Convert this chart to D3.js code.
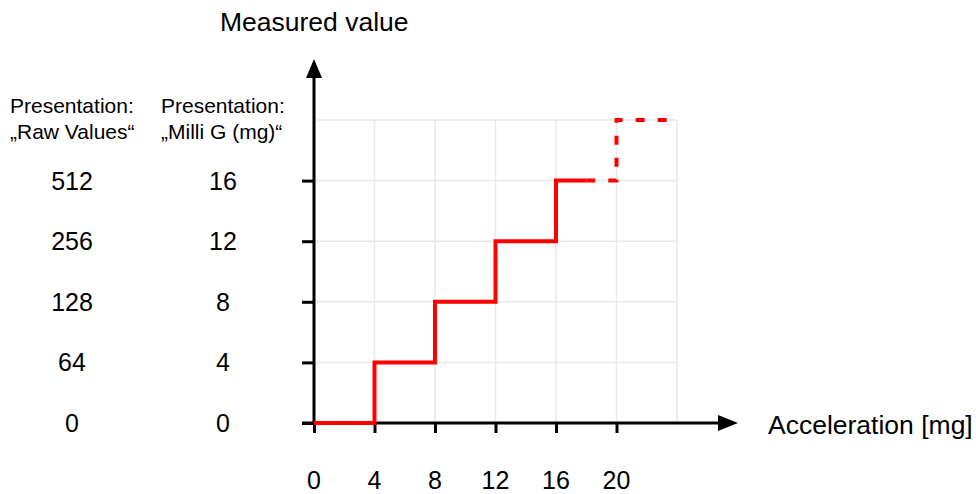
<!DOCTYPE html>
<html>
<head>
<meta charset="utf-8">
<script src="https://cdn.jsdelivr.net/npm/d3@7"></script>
<style>
  body { margin: 0; background: #fff; }
  svg text { font-family: "Liberation Sans", Arial, sans-serif; fill: #000; }
</style>
</head>
<body>
<svg></svg>
<script>
const xTicks = [0, 4, 8, 12, 16, 20];
const yTicks = [0, 4, 8, 12, 16];
const rawLabels = ['0', '64', '128', '256', '512'];
const mgLabels = ['0', '4', '8', '12', '16'];
const gridX = [4, 8, 12, 16, 20, 24];
const gridY = [4, 8, 12, 16, 20];

// measured step curve
const solidSteps = [[0, 0], [4, 0], [4, 4], [8, 4], [8, 8], [12, 8], [12, 12], [16, 12], [16, 16], [18, 16]];
const dashedSteps = [[18, 16], [20, 16], [20, 20], [24, 20]];

const width = 976;
const height = 494;

const svg = d3.select('svg')
    .attr('width', width)
    .attr('height', height);

const x = d3.scaleLinear().domain([0, 24]).range([314, 677]);
const y = d3.scaleLinear().domain([0, 20]).range([423, 120]);

// grid
const grid = svg.append('g').attr('class', 'grid')
    .attr('stroke', '#e6e9ee')
    .attr('stroke-width', 1.5);

grid.selectAll('line.gx')
    .data(gridX)
    .enter()
    .append('line')
    .attr('x1', d => x(d)).attr('x2', d => x(d))
    .attr('y1', y(0)).attr('y2', y(20));

grid.selectAll('line.gy')
    .data(gridY)
    .enter()
    .append('line')
    .attr('y1', d => y(d)).attr('y2', d => y(d))
    .attr('x1', x(0)).attr('x2', x(24));

// axes
const xAxis = d3.axisBottom(x).tickValues(xTicks).tickSize(10).tickFormat('');
const yAxis = d3.axisLeft(y).tickValues(yTicks).tickSize(12).tickFormat('');

const gx = svg.append('g')
    .attr('id', 'x-axis')
    .attr('transform', 'translate(0,' + y(0) + ')')
    .call(xAxis);
gx.select('.domain').remove();
gx.selectAll('line').attr('stroke', '#000').attr('stroke-width', 3);

const gy = svg.append('g')
    .attr('id', 'y-axis')
    .attr('transform', 'translate(' + x(0) + ',0)')
    .call(yAxis);
gy.select('.domain').remove();
gy.selectAll('line').attr('stroke', '#000').attr('stroke-width', 3);

// axis lines with arrows
svg.append('line')
    .attr('x1', 302).attr('x2', 720)
    .attr('y1', y(0)).attr('y2', y(0))
    .attr('stroke', '#000').attr('stroke-width', 3);
svg.append('path')
    .attr('d', 'M718,' + (y(0) - 8) + 'L738,' + y(0) + 'L718,' + (y(0) + 8) + 'Z')
    .attr('fill', '#000');

svg.append('line')
    .attr('x1', x(0)).attr('x2', x(0))
    .attr('y1', y(0)).attr('y2', 76)
    .attr('stroke', '#000').attr('stroke-width', 3);
svg.append('path')
    .attr('d', 'M' + (x(0) - 8) + ',78L' + x(0) + ',59L' + (x(0) + 8) + ',78Z')
    .attr('fill', '#000');

// step curve
const line = d3.line().x(d => x(d[0])).y(d => y(d[1]));

svg.append('path')
    .datum(solidSteps)
    .attr('d', line)
    .attr('fill', 'none')
    .attr('stroke', '#ff0000')
    .attr('stroke-width', 4);

svg.append('path')
    .datum(dashedSteps)
    .attr('d', line)
    .attr('fill', 'none')
    .attr('stroke', '#ff0000')
    .attr('stroke-width', 4)
    .attr('stroke-dasharray', '9,13');

// tick labels
svg.selectAll('text.xl')
    .data(xTicks)
    .enter()
    .append('text')
    .attr('x', d => x(d))
    .attr('y', 489)
    .attr('text-anchor', 'middle')
    .attr('font-size', 25)
    .text(d => d);

svg.selectAll('text.mg')
    .data(yTicks)
    .enter()
    .append('text')
    .attr('x', 223)
    .attr('y', d => y(d) + 9)
    .attr('text-anchor', 'middle')
    .attr('font-size', 25)
    .text((d, i) => mgLabels[i]);

svg.selectAll('text.raw')
    .data(yTicks)
    .enter()
    .append('text')
    .attr('x', 72)
    .attr('y', d => y(d) + 9)
    .attr('text-anchor', 'middle')
    .attr('font-size', 25)
    .text((d, i) => rawLabels[i]);

// headers
const headers = [
    { x: 10, lines: ['Presentation:', '\u201eRaw Values\u201c'] },
    { x: 161, lines: ['Presentation:', '\u201eMilli G (mg)\u201c'] }
];
headers.forEach(h => {
    svg.append('text')
        .attr('x', h.x).attr('y', 113)
        .attr('font-size', 21)
        .text(h.lines[0]);
    svg.append('text')
        .attr('x', h.x).attr('y', 139)
        .attr('font-size', 21)
        .text(h.lines[1]);
});

svg.append('text')
    .attr('x', 220).attr('y', 31)
    .attr('font-size', 26.5)
    .text('Measured value');

svg.append('text')
    .attr('x', 768).attr('y', 434)
    .attr('font-size', 26.5)
    .text('Acceleration [mg]');
</script>
</body>
</html>
